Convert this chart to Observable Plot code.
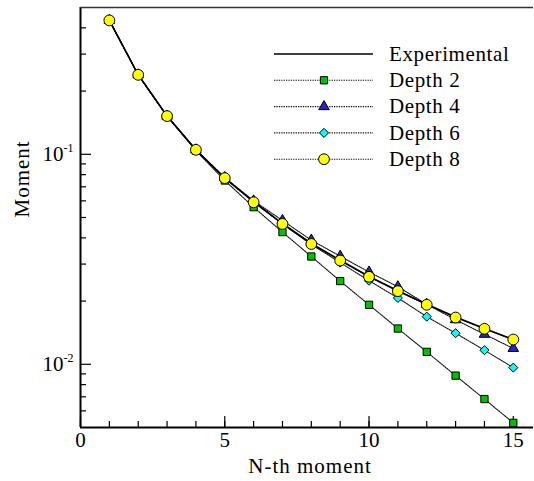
<!DOCTYPE html>
<html><head><meta charset="utf-8">
<script src="https://cdn.jsdelivr.net/npm/d3@7"></script>
<script src="https://cdn.jsdelivr.net/npm/@observablehq/plot@0.6"></script>
<style>
body{margin:0;background:#fff;}
#wrap{position:relative;width:534px;height:481px;}
#wrap svg text{font-family:"Liberation Serif","Times New Roman",serif;}
</style></head><body><div id="wrap"></div>
<script>
// ---- data ----
const nth = [1,2,3,4,5,6,7,8,9,10,11,12,13,14,15];
const experimental = [0.434,0.239,0.152,0.105,0.077,0.0595,0.0468,0.0376,0.0313,0.0262,0.0224,0.0193,0.0168,0.0148,0.0131];
const depth2 = [0.434,0.239,0.152,0.104,0.075,0.0560,0.0426,0.0326,0.0249,0.0192,0.0148,0.01146,0.00883,0.00683,0.00526];
const depth4 = [0.434,0.239,0.152,0.105,0.0775,0.0600,0.0484,0.0390,0.0327,0.0275,0.0234,0.0193,0.0163,0.0139,0.0119];
const depth6 = [0.434,0.239,0.152,0.105,0.077,0.0595,0.0466,0.0372,0.0305,0.0250,0.0207,0.01686,0.01406,0.01167,0.00964];
const depth8 = [0.434,0.239,0.152,0.105,0.077,0.0591,0.0466,0.0374,0.0312,0.0261,0.0223,0.0192,0.0167,0.01476,0.01312];
const seriesNames = ["Experimental","Depth 2","Depth 4","Depth 6","Depth 8"];
const xMajorTicks = [0,5,10,15];
const xMinorTicks = [0,1,2,3,4,5,6,7,8,9,10,11,12,13,14,15];
const yMajorTicks = [0.1,0.01];
const yMinorTicks = [0.006,0.007,0.008,0.009,0.02,0.03,0.04,0.05,0.06,0.07,0.08,0.09,0.2,0.3,0.4];
const xLabel = "N-th moment";
const yLabel = "Moment";

// ---- styles ----
const fills = {"Depth 2":"#00c000","Depth 4":"#2626c8","Depth 6":"#00ffff","Depth 8":"#ffff00"};
const symbols = {"Depth 2":"square","Depth 4":"triangle","Depth 6":"diamond2","Depth 8":"circle"};
const radii = {"Depth 2":4.1,"Depth 4":3.9,"Depth 6":4.1,"Depth 8":5.4};

const toRows = vals => nth.map((n,i)=>({n, v: vals[i]}));
const depthData = {"Depth 2":toRows(depth2),"Depth 4":toRows(depth4),"Depth 6":toRows(depth6),"Depth 8":toRows(depth8)};
const expRows = toRows(experimental);
const depthKeys = ["Depth 2","Depth 4","Depth 6","Depth 8"];

const FS = 21;
const chart = Plot.plot({
  width: 534, height: 481,
  marginLeft: 80, marginRight: 1, marginTop: 7, marginBottom: 54,
  style: {fontFamily: "'Liberation Serif', serif", fontSize: FS + "px", background: "#fff", color: "#000"},
  x: {domain: [0, 15.7]},
  y: {type: "log", domain: [0.005, 0.5]},
  marks: [
    Plot.axisX(xMinorTicks, {tickSize: -6, tickFormat: () => "", label: null, strokeWidth: 1.2}),
    Plot.axisX(xMajorTicks, {tickSize: -11, tickFormat: () => "", label: null, strokeWidth: 1.2}),
    Plot.axisY(yMinorTicks, {tickSize: -6, tickFormat: () => "", label: null, strokeWidth: 1.2}),
    Plot.axisY(yMajorTicks, {tickSize: -11, tickFormat: () => "", label: null, strokeWidth: 1.2}),
    Plot.ruleX([0], {stroke: "#000", strokeWidth: 2}),
    Plot.ruleY([0.005], {stroke: "#000", strokeWidth: 2}),
    Plot.ruleY([0.5], {stroke: "#333", strokeWidth: 1.6}),
    ...depthKeys.map(k => Plot.line(depthData[k], {x: "n", y: "v", stroke: "#111", strokeWidth: 1.1, strokeDasharray: "1.3,1.1"})),
    Plot.line(expRows, {x: "n", y: "v", stroke: "#000", strokeWidth: 1.6}),
    ...depthKeys.map(k => Plot.dot(depthData[k], {x: "n", y: "v", symbol: symbols[k], r: radii[k], fill: fills[k], stroke: "#000", strokeWidth: 1})),
    Plot.text(xMajorTicks, {x: d => d, frameAnchor: "bottom", lineAnchor: "top", dy: 5, text: d => String(d), fontSize: FS}),
    Plot.text(yMajorTicks, {y: d => d, frameAnchor: "left", textAnchor: "end", dx: -17, text: () => "10", fontSize: FS}),
    Plot.text(yMajorTicks, {y: d => d, frameAnchor: "left", textAnchor: "end", dx: -7, dy: -6, text: d => String(Math.round(Math.log10(d))), fontSize: 12}),
    Plot.text([xLabel], {frameAnchor: "bottom", lineAnchor: "top", dy: 31, dx: 3, text: d => d, fontSize: FS}),
    Plot.text([yLabel], {frameAnchor: "left", rotate: -90, dx: -58, text: d => d, fontSize: FS})
  ]
});
document.getElementById("wrap").appendChild(chart);
const svg = d3.select(chart);
svg.selectAll("text").filter(function(){ const t = this.textContent; return t === xLabel || t === yLabel; }).style("letter-spacing", "1px");

// ---- legend ----
const lg = svg.append("g").attr("class", "legend");
const rowY0 = 54, rowStep = 26.3;
seriesNames.forEach((name, i) => {
  const y = rowY0 + i * rowStep;
  const isExp = name === "Experimental";
  lg.append("line").attr("x1", 274).attr("x2", 373).attr("y1", y).attr("y2", y)
    .attr("stroke", isExp ? "#000" : "#111").attr("stroke-width", isExp ? 1.6 : 1.1)
    .attr("stroke-dasharray", isExp ? null : "1.3,1.1");
  if (!isExp) {
    const typ = {square: d3.symbolSquare, triangle: d3.symbolTriangle, diamond2: d3.symbolDiamond2, circle: d3.symbolCircle}[symbols[name]];
    lg.append("path").attr("transform", `translate(324,${y})`)
      .attr("d", d3.symbol(typ, Math.PI * radii[name] * radii[name])())
      .attr("fill", fills[name]).attr("stroke", "#000").attr("stroke-width", 1);
  }
  lg.append("text").attr("x", 389).attr("y", y).attr("dy", "0.32em")
    .attr("text-anchor", "start")
    .attr("font-size", FS).attr("fill", "#000").style("letter-spacing", "0.6px").text(name);
});
</script></body></html>
